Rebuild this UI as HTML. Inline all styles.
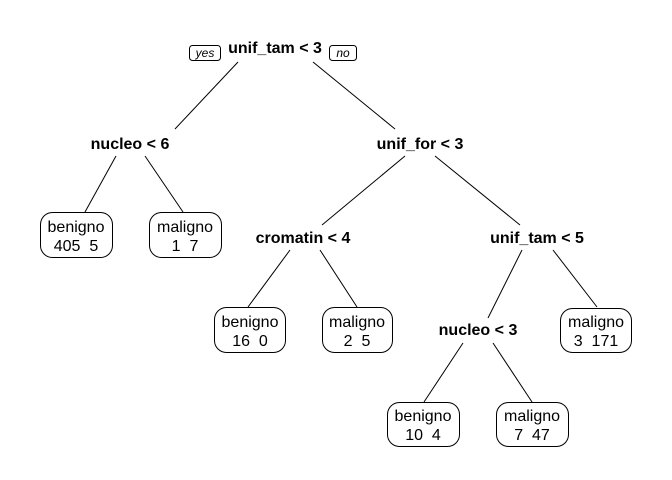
<!DOCTYPE html>
<html><head><meta charset="utf-8"><style>
html,body{margin:0;padding:0;background:#fff;}
svg{display:block;}
text{font-family:"Liberation Sans",Arial,sans-serif;font-size:16px;fill:#000;white-space:pre;}
.b{font-weight:bold;}
.l{font-size:12px;font-style:italic;}
rect{fill:#fff;stroke:#000;stroke-width:1;}
line{stroke:#000;stroke-width:1;}
</style></head><body>
<svg width="672" height="480" viewBox="0 0 672 480" xml:space="preserve">
<line x1="238" y1="62" x2="175" y2="129"/>
<line x1="313" y1="62" x2="395" y2="129"/>
<line x1="116" y1="156" x2="85" y2="212"/>
<line x1="145" y1="156" x2="183" y2="212"/>
<line x1="405" y1="156" x2="322" y2="225"/>
<line x1="435" y1="156" x2="520" y2="225"/>
<line x1="290" y1="250" x2="248" y2="307"/>
<line x1="320" y1="250" x2="357" y2="307"/>
<line x1="522" y1="250" x2="488" y2="318"/>
<line x1="553" y1="250" x2="597" y2="307"/>
<line x1="463" y1="343" x2="424" y2="402"/>
<line x1="493" y1="343" x2="532" y2="402"/>

<rect x="189.5" y="45.5" width="31" height="15" rx="3"/>
<text class="l" x="205" y="57" text-anchor="middle">yes</text>
<rect x="329.5" y="45.5" width="27" height="15" rx="3"/>
<text class="l" x="343" y="57" text-anchor="middle">no</text>
<text class="b" x="275" y="53" text-anchor="middle">unif_tam &lt; 3</text>
<text class="b" x="130" y="149" text-anchor="middle">nucleo &lt; 6</text>
<text class="b" x="420" y="149" text-anchor="middle">unif_for &lt; 3</text>
<text class="b" x="303" y="243" text-anchor="middle">cromatin &lt; 4</text>
<text class="b" x="537" y="243" text-anchor="middle">unif_tam &lt; 5</text>
<text class="b" x="478" y="335" text-anchor="middle">nucleo &lt; 3</text>

<rect x="40.5" y="212.5" width="72" height="45" rx="12"/>
<text x="76" y="232" text-anchor="middle">benigno</text><text x="76" y="251" text-anchor="middle">405  5</text>
<rect x="149.5" y="212.5" width="72" height="45" rx="12"/>
<text x="185" y="232" text-anchor="middle">maligno</text><text x="185" y="251" text-anchor="middle">1  7</text>
<rect x="214.5" y="307.5" width="71" height="45" rx="12"/>
<text x="250" y="327" text-anchor="middle">benigno</text><text x="250" y="346" text-anchor="middle">16  0</text>
<rect x="322.5" y="307.5" width="70" height="45" rx="12"/>
<text x="357" y="327" text-anchor="middle">maligno</text><text x="357" y="346" text-anchor="middle">2  5</text>
<rect x="560.5" y="308.5" width="71" height="44" rx="12"/>
<text x="596" y="327" text-anchor="middle">maligno</text><text x="596" y="346" text-anchor="middle">3  171</text>
<rect x="387.5" y="402.5" width="72" height="44" rx="12"/>
<text x="423" y="421" text-anchor="middle">benigno</text><text x="423" y="440" text-anchor="middle">10  4</text>
<rect x="496.5" y="402.5" width="72" height="44" rx="12"/>
<text x="532" y="421" text-anchor="middle">maligno</text><text x="532" y="440" text-anchor="middle">7  47</text>
</svg>
</body></html>
